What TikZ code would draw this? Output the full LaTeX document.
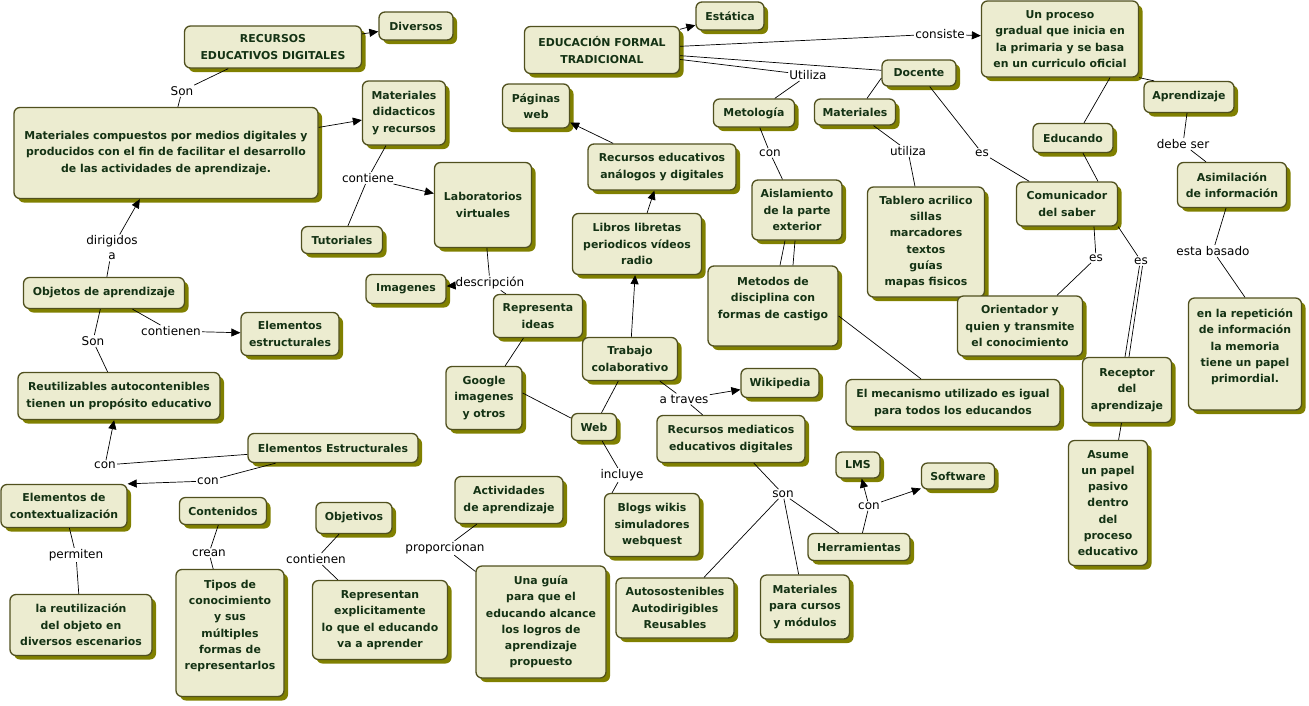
\documentclass[tikz,border=0pt]{standalone}
\usepackage{fontspec}
\newfontfamily\cmapfont{DejaVu Sans}
\newcommand\cmapb{\cmapfont\bfseries\fontsize{10.9}{16.3}\selectfont}
\newcommand\cmapr{\cmapfont\fontsize{12}{15}\selectfont}
\usetikzlibrary{shadows}
\usetikzlibrary{arrows.meta}
\definecolor{cfill}{RGB}{236,236,208}
\definecolor{cborder}{RGB}{80,80,30}
\definecolor{cshadow}{RGB}{128,128,0}
\definecolor{ctext}{RGB}{20,50,20}

\begin{document}
\begin{tikzpicture}[x=1pt, y=-1pt]

\tikzset{my-concept/.style={draw=cborder, line width=1.3pt, fill=cfill, rounded corners=6pt,
                            align=center, text=ctext, font=\cmapb, inner sep=2pt,
                            drop shadow={shadow xshift=4pt, shadow yshift=-4pt, fill=cshadow, opacity=1}},
         my-box/.style 2 args={minimum width=#1pt, minimum height=#2pt},
         my-link/.style={font=\cmapr, text=black, inner sep=1pt, align=center},
         my-arrow/.style={-{Triangle[length=9pt,width=8pt]}},
         every path/.style={line width=0.7pt}}

\useasboundingbox (0,0) rectangle (1309,705);

\node[my-concept, my-box={177}{42}] (rec) at (273,47) {RECURSOS\\EDUCATIVOS DIGITALES};
\node[my-concept, my-box={74}{28}] (div) at (416,26) {Diversos};
\node[my-concept, my-box={304}{91}] (matcomp) at (166,153) {Materiales compuestos por medios digitales y\\producidos con el fin de facilitar el desarrollo\\de las actividades de aprendizaje.};
\node[my-concept, my-box={83}{64}] (matdid) at (404,113) {Materiales\\didacticos\\y recursos};
\node[my-concept, my-box={81}{27}] (tut) at (342,240) {Tutoriales};
\node[my-concept, my-box={97}{85}] (lab) at (483,205) {Laboratorios\\virtuales};
\node[my-concept, my-box={80}{29}] (img) at (406,289) {Imagenes};
\node[my-concept, my-box={155}{47}] (edu) at (602,50) {EDUCACIÓN FORMAL\\TRADICIONAL};
\node[my-concept, my-box={68}{28}] (est) at (730,16) {Estática};
\node[my-concept, my-box={67}{44}] (pag) at (536,106) {Páginas\\web};
\node[my-concept, my-box={148}{46}] (recan) at (662,167) {Recursos educativos\\análogos y digitales};
\node[my-concept, my-box={129}{61}] (lib) at (637,244) {Libros libretas\\periodicos vídeos\\radio};
\node[my-concept, my-box={81}{28}] (metol) at (754,113) {Metología};
\node[my-concept, my-box={81}{26}] (mat) at (855,112) {Materiales};
\node[my-concept, my-box={74}{26}] (doc) at (919,73) {Docente};
\node[my-concept, my-box={157}{76}] (proc) at (1060,39) {Un proceso\\gradual que inicia en\\la primaria y se basa\\en un curriculo oficial};
\node[my-concept, my-box={90}{31}] (apr) at (1189,97) {Aprendizaje};
\node[my-concept, my-box={80}{29}] (educ) at (1073,138) {Educando};
\node[my-concept, my-box={109}{45}] (asim) at (1232,185) {Asimilación\\de información};
\node[my-concept, my-box={90}{60}] (ais) at (797,210) {Aislamiento\\de la parte\\exterior};
\node[my-concept, my-box={117}{110}] (tab) at (926,242) {Tablero acrilico\\sillas\\marcadores\\textos\\guías\\mapas fisicos};
\node[my-concept, my-box={101}{44}] (com) at (1067,204) {Comunicador\\del saber};
\node[my-concept, my-box={130}{80}] (metd) at (773,306) {Metodos de\\disciplina con\\formas de castigo\\~};
\node[my-concept, my-box={125}{60}] (ori) at (1020,326) {Orientador y\\quien y transmite\\el conocimiento};
\node[my-concept, my-box={89}{65}] (rcp) at (1127,390) {Receptor\\del\\aprendizaje};
\node[my-concept, my-box={113}{112}] (rep) at (1245,354) {en la repetición\\de información\\la memoria\\tiene un papel\\primordial.\\~};
\node[my-concept, my-box={214}{47}] (mec) at (953,403) {El mecanismo utilizado es igual\\para todos los educandos};
\node[my-concept, my-box={79}{125}] (asu) at (1108,503) {Asume\\un papel\\pasivo\\dentro\\del\\proceso\\educativo};
\node[my-concept, my-box={161}{31}] (obj) at (104,293) {Objetos de aprendizaje};
\node[my-concept, my-box={98}{43}] (elest) at (290,334) {Elementos\\estructurales};
\node[my-concept, my-box={202}{47}] (reut) at (119,396) {Reutilizables autocontenibles\\tienen un propósito educativo};
\node[my-concept, my-box={170}{29}] (elEst) at (333,448) {Elementos Estructurales};
\node[my-concept, my-box={126}{43}] (elcon) at (64,506) {Elementos de\\contextualización};
\node[my-concept, my-box={87}{27}] (cont) at (223,511) {Contenidos};
\node[my-concept, my-box={76}{31}] (objv) at (354,518) {Objetivos};
\node[my-concept, my-box={142}{61}] (reu) at (81,625) {la reutilización\\del objeto en\\diversos escenarios};
\node[my-concept, my-box={108}{127}] (tip) at (230,633) {Tipos de\\conocimiento\\y sus\\múltiples\\formas de\\representarlos\\~};
\node[my-concept, my-box={135}{79}] (rpr) at (380,620) {Representan\\explicitamente\\lo que el educando\\va a aprender};
\node[my-concept, my-box={108}{47}] (act) at (509,500) {Actividades\\de aprendizaje};
\node[my-concept, my-box={130}{112}] (guia) at (541,622) {Una guía\\para que el\\educando alcance\\los logros de\\aprendizaje\\propuesto};
\node[my-concept, my-box={89}{43}] (rid) at (538,316) {Representa\\ideas};
\node[my-concept, my-box={95}{43}] (trab) at (630,359) {Trabajo\\colaborativo};
\node[my-concept, my-box={76}{63}] (goo) at (484,398) {Google\\imagenes\\y otros};
\node[my-concept, my-box={45}{27}] (web) at (594,427) {Web};
\node[my-concept, my-box={78}{29}] (wik) at (780,383) {Wikipedia};
\node[my-concept, my-box={148}{47}] (recmed) at (731,439) {Recursos mediaticos\\educativos digitales};
\node[my-concept, my-box={95}{63}] (blog) at (652,525) {Blogs wikis\\simuladores\\webquest};
\node[my-concept, my-box={44}{26}] (lms) at (858,465) {LMS};
\node[my-concept, my-box={73}{26}] (soft) at (958,476) {Software};
\node[my-concept, my-box={102}{27}] (herr) at (859,547) {Herramientas};
\node[my-concept, my-box={118}{60}] (auto) at (675,608) {Autosostenibles\\Autodirigibles\\Reusables};
\node[my-concept, my-box={89}{64}] (matcur) at (805,607) {Materiales\\para cursos\\y módulos};

\node[my-link] (son-a) at (182,91) {Son};
\node[my-link] (dirigidos) at (112,248) {dirigidos\\a};
\node[my-link] (contiene) at (368,178) {contiene};
\node[my-link] (descripcion) at (490,283) {descripción};
\node[my-link] (son-b) at (93,341) {Son};
\node[my-link] (contienen-a) at (171,331) {contienen};
\node[my-link] (con-a) at (105,465) {con};
\node[my-link] (con-b) at (208,481) {con};
\node[my-link] (permiten) at (76,555) {permiten};
\node[my-link] (crean) at (209,553) {crean};
\node[my-link] (contienen-b) at (316,559) {contienen};
\node[my-link] (proporcionan) at (445,548) {proporcionan};
\node[my-link] (consiste) at (940,34) {consiste};
\node[my-link] (utiliza-a) at (808,75) {Utiliza};
\node[my-link] (atraves) at (684,399) {a traves};
\node[my-link] (incluye) at (622,475) {incluye};
\node[my-link] (son-c) at (783,494) {son};
\node[my-link] (con-c) at (869,506) {con};
\node[my-link] (con-d) at (770,153) {con};
\node[my-link] (utiliza-b) at (908,151) {utiliza};
\node[my-link] (es-a) at (982,153) {es};
\node[my-link] (debeser) at (1183,144) {debe ser};
\node[my-link] (basado) at (1213,251) {esta basado};
\node[my-link] (es-b) at (1096,258) {es};
\node[my-link] (es-c) at (1141,261) {es};

\draw[my-arrow] (rec) -- (div);
\draw (rec) -- (son-a);
\draw (son-a) -- (matcomp);
\draw[my-arrow] (matcomp) -- (matdid);
\draw (matdid) -- (contiene);
\draw (contiene) -- (tut);
\draw[my-arrow] (contiene) -- (lab);
\draw (lab) -- (descripcion);
\draw[my-arrow] (descripcion) -- (img);
\draw (descripcion) -- (rid);
\draw (obj) -- (dirigidos);
\draw[my-arrow] (dirigidos) -- (matcomp);
\draw (obj) -- (son-b);
\draw (son-b) -- (reut);
\draw (obj) -- (contienen-a);
\draw[my-arrow] (contienen-a) -- (elest);
\draw (elEst) -- (con-a);
\draw[my-arrow] (con-a) -- (reut);
\draw (elEst) -- (con-b);
\draw[my-arrow] (con-b) -- (elcon.north east);
\draw (elcon) -- (permiten);
\draw (permiten) -- (reu);
\draw (cont) -- (crean);
\draw (crean) -- (tip);
\draw (objv) -- (contienen-b);
\draw (contienen-b) -- (rpr);
\draw (act) -- (proporcionan);
\draw (proporcionan) -- (guia);

\draw[my-arrow] (edu) -- (est);
\draw (edu) -- (consiste);
\draw[my-arrow] (consiste) -- (proc);
\draw (edu) -- (utiliza-a);
\draw (utiliza-a) -- (metol);
\draw (edu) -- (doc);
\draw ([yshift=-5pt]doc.west) -- ([xshift=12pt]mat.north);
\draw (metol) -- (con-d);
\draw (con-d) -- (ais);
\draw ([xshift=-12pt]ais.south) -- ([xshift=7pt]metd.north);
\draw ([xshift=-2pt]ais.south) -- ([xshift=20pt]metd.north);
\draw ([yshift=-10pt]metd.east) -- ([xshift=-32pt]mec.north);
\draw (mat) -- (utiliza-b);
\draw (utiliza-b) -- (tab);
\draw (doc) -- (es-a);
\draw (es-a) -- (com);
\draw ([xshift=50pt]proc.south) -- ([xshift=11pt]educ.north);
\draw (proc.south east) -- ([xshift=-35pt]apr.north);
\draw ([xshift=10pt]educ.south) -- ([xshift=31pt]com.north);
\draw ([xshift=-2pt]apr.south) -- (debeser);
\draw (debeser) -- ([xshift=-26pt]asim.north);
\draw ([xshift=-6pt]asim.south) -- (basado);
\draw (basado) -- (rep.north);
\draw ([xshift=27pt]com.south) -- (es-b);
\draw (es-b) -- ([xshift=37pt]ori.north);
\draw (com.south east) -- (es-c);
\draw ([xshift=-1.5pt]es-c.south) -- ([xshift=-2pt]rcp.north);
\draw ([xshift=1.5pt]es-c.south) -- ([xshift=2pt]rcp.north);
\draw (rcp) -- (asu);

\draw[my-arrow] (recan) -- (pag);
\draw[my-arrow] (lib) -- (recan);
\draw[my-arrow] (trab) -- (lib);
\draw (rid) -- (goo);
\draw ([yshift=5pt]goo.east) -- ([yshift=9pt]web.west);
\draw (trab) -- (web);
\draw (trab) -- (atraves);
\draw[my-arrow] (atraves) -- (wik);
\draw (atraves) -- (recmed);
\draw (web) -- (incluye);
\draw (incluye) -- ([xshift=-40pt]blog.north);
\draw (recmed) -- (son-c);
\draw (son-c) -- (auto);
\draw (son-c) -- (matcur);
\draw (son-c) -- (herr);
\draw (herr) -- (con-c);
\draw[my-arrow] (con-c) -- (lms);
\draw[my-arrow] (con-c) -- (soft);

\end{tikzpicture}
\end{document}
